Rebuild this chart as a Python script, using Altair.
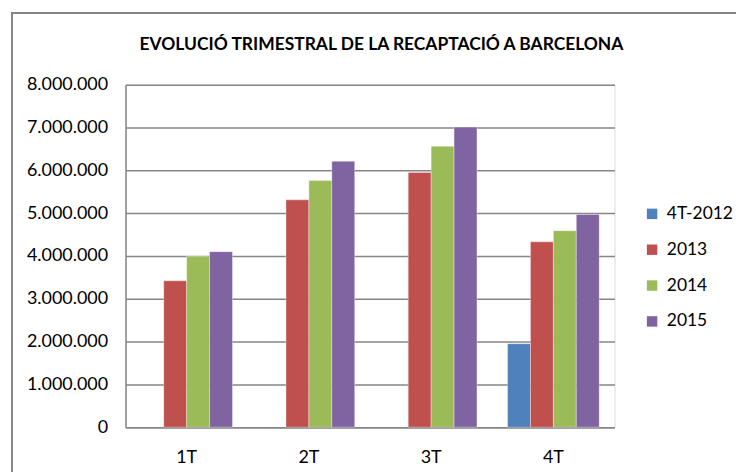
import altair as alt
import pandas as pd

quarters = ["1T", "2T", "3T", "4T"]
series = ["4T-2012", "2013", "2014", "2015"]
colors = ["#4F81BD", "#C0504D", "#9BBB59", "#8064A2"]
values = {
    "4T-2012": [None, None, None, 1950000],
    "2013": [3420000, 5310000, 5950000, 4330000],
    "2014": [3990000, 5760000, 6560000, 4590000],
    "2015": [4100000, 6210000, 7010000, 4970000],
}
title_text = "EVOLUCIÓ TRIMESTRAL  DE LA RECAPTACIÓ  A BARCELONA"

rows = []
for s in series:
    for q, v in zip(quarters, values[s]):
        if v is not None:
            rows.append({"Trimestre": q, "Sèrie": s, "Valor": v})
df = pd.DataFrame(rows)

FONT = "Lato"

bars = alt.Chart(df).mark_bar(stroke="white", strokeWidth=0.6, strokeOpacity=0.6).encode(
    x=alt.X("Trimestre:N", sort=quarters,
            scale=alt.Scale(paddingInner=0.25, paddingOuter=0.125),
            axis=alt.Axis(title=None, labelAngle=0, ticks=False, domainColor="#868686",
                          domainWidth=1.5, labelFontSize=18, labelColor="#000000",
                          labelFont=FONT, labelPadding=21, grid=False)),
    xOffset=alt.XOffset("Sèrie:N", sort=series, scale=alt.Scale(domain=series, paddingInner=0, paddingOuter=0)),
    y=alt.Y("Valor:Q",
            scale=alt.Scale(domain=[0, 8000000], nice=False),
            axis=alt.Axis(title=None, values=[i * 1000000 for i in range(9)],
                          labelExpr="replace(format(datum.value, ',d'), /,/g, '.')",
                          ticks=False, domain=True, domainColor="#868686", domainWidth=1.5,
                          gridColor="#868686", gridWidth=1.5, labelFontSize=18,
                          labelColor="#000000", labelFont=FONT, labelPadding=18)),
    color=alt.Color("Sèrie:N", sort=series,
                    scale=alt.Scale(domain=series, range=colors),
                    legend=alt.Legend(title=None, symbolType="square", symbolSize=110,
                                      symbolStrokeWidth=0, labelFontSize=17.5, labelFont=FONT,
                                      labelColor="#000000", rowPadding=17, labelOffset=6,
                                      padding=0, orient="none", legendX=520, legendY=121)),
)

border = alt.Chart(df).mark_rect(fill=None, stroke="#868686", strokeWidth=1.5, clip=False).encode(
    x=alt.value(-114), x2=alt.value(720), y=alt.value(-72), y2=alt.value(470)
)

title = alt.Chart(pd.DataFrame({"t": [title_text]})).mark_text(
    font=FONT, fontSize=17.5, fontWeight="bold", color="#000000", align="center", baseline="middle"
).encode(text="t:N", x=alt.value(257), y=alt.value(-40))

chart = alt.layer(border, bars, title).properties(
    width=491, height=344,
    padding={"left": 118, "top": 76, "right": 122, "bottom": 44},
    autosize=alt.AutoSizeParams(type="none"),
).configure_view(stroke=None).configure(background="white")

chart.save("out.html", embed_options={"renderer": "svg", "actions": False})
